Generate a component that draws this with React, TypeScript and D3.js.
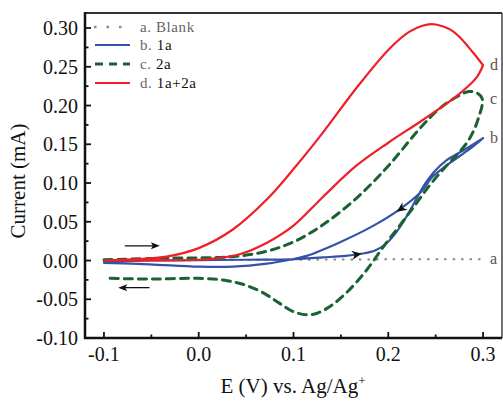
import React from "react";
import * as d3 from "d3";

// blank electrolyte (a)
const blankE = [-0.1, 0.0, 0.1, 0.2, 0.3];
const blankI = [0.0, 0.0005, 0.001, 0.0015, 0.0015];

// 1a (b): forward sweep, reverse sweep
const bFwdE = [-0.1, -0.05, 0.0, 0.05, 0.096, 0.131, 0.155, 0.173, 0.186, 0.197, 0.207, 0.216, 0.225, 0.233, 0.24, 0.248, 0.261, 0.279, 0.3];
const bFwdI = [-0.001, 0.0, 0.0005, 0.001, 0.0015, 0.004, 0.006, 0.009, 0.013, 0.021, 0.034, 0.05, 0.069, 0.087, 0.101, 0.114, 0.129, 0.142, 0.158];
const bRevE = [0.3, 0.285, 0.264, 0.246, 0.235, 0.212, 0.183, 0.148, 0.114, 0.096, 0.072, 0.036, 0.0, -0.052, -0.1];
const bRevI = [0.158, 0.143, 0.125, 0.107, 0.089, 0.066, 0.044, 0.023, 0.006, 0.001, -0.004, -0.008, -0.008, -0.005, -0.003];

// 2a (c)
const cE = [-0.1, -0.034, 0.036, 0.072, 0.1, 0.131, 0.166, 0.2, 0.233, 0.254, 0.272, 0.285, 0.294, 0.299,
  0.299, 0.296, 0.291, 0.283, 0.272, 0.259, 0.243, 0.228, 0.212, 0.195, 0.178, 0.158, 0.14, 0.125, 0.114, 0.1, 0.085, 0.07, 0.05, 0.03, 0.0, -0.05, -0.094];
const cI = [0.001, 0.003, 0.005, 0.012, 0.024, 0.046, 0.08, 0.122, 0.17, 0.196, 0.211, 0.218, 0.216, 0.209,
  0.2, 0.187, 0.17, 0.152, 0.136, 0.119, 0.096, 0.071, 0.045, 0.018, -0.011, -0.039, -0.058, -0.068, -0.07, -0.066, -0.055, -0.043, -0.032, -0.026, -0.023, -0.024, -0.023];

// 1a+2a (d): forward sweep, reverse sweep
const dFwdE = [-0.1, -0.06, -0.034, 0.0, 0.036, 0.072, 0.1, 0.131, 0.166, 0.201, 0.222, 0.236, 0.246, 0.258, 0.268, 0.278, 0.289, 0.3];
const dFwdI = [0.0, 0.002, 0.005, 0.016, 0.04, 0.079, 0.118, 0.165, 0.222, 0.273, 0.295, 0.303, 0.305, 0.302, 0.296, 0.285, 0.269, 0.252];
const dRevE = [0.3, 0.293, 0.272, 0.236, 0.2, 0.166, 0.131, 0.1, 0.072, 0.043, 0.02, 0.0, -0.05, -0.1];
const dRevI = [0.252, 0.236, 0.212, 0.181, 0.152, 0.122, 0.082, 0.045, 0.023, 0.008, 0.003, 0.001, 0.0, 0.0];

const xTicks = [-0.1, 0.0, 0.1, 0.2, 0.3];
const yTicks = [-0.1, -0.05, 0.0, 0.05, 0.1, 0.15, 0.2, 0.25, 0.3];

const W = 503;
const H = 401;
const margin = { left: 85, top: 13, right: 1, bottom: 63 };
const serif = "'Liberation Serif', 'Times New Roman', serif";

const x = d3.scaleLinear().domain([-0.12, 0.32]).range([margin.left, W - margin.right]);
const y = d3.scaleLinear().domain([-0.1, 0.3194]).range([H - margin.bottom, margin.top]);

const pts = (E: number[], I: number[]) => E.map((e, i) => [e, I[i]] as [number, number]);
const line = d3
  .line<[number, number]>()
  .x((d) => x(d[0]))
  .y((d) => y(d[1]))
  .curve(d3.curveCatmullRom.alpha(0.5));

const series = [
  { key: "a", name: "Blank", color: "#8a8a8a", width: 2, dash: "2.5 6", parts: [pts(blankE, blankI)] },
  { key: "b", name: "1a", color: "#3552a8", width: 2.2, dash: null, parts: [pts(bFwdE, bFwdI), pts(bRevE, bRevI)] },
  { key: "c", name: "2a", color: "#1b6232", width: 3, dash: "8 6", parts: [pts(cE, cI)] },
  { key: "d", name: "1a+2a", color: "#ee1f26", width: 2.2, dash: null, parts: [pts(dFwdE, dFwdI), pts(dRevE, dRevI)] },
];

// sweep direction arrowheads on curve b: [E, I, dE, dI]
const headPts = [
  [0.172, 0.0088, 1, 0.2],
  [0.209, 0.063, -1, -0.85],
];

function Head({ e, i, de, di }: { e: number; i: number; de: number; di: number }) {
  const px = x(e);
  const py = y(i);
  const ang = (Math.atan2(y(i + di * 0.01) - py, x(e + de * 0.01) - px) * 180) / Math.PI;
  return (
    <path
      d="M0,0 L-10,-4.5 L-7,0 L-10,4.5 Z"
      fill="#111"
      transform={`translate(${px},${py}) rotate(${ang})`}
    />
  );
}

export default function App() {
  const [x0, x1] = x.range();
  const [y0, y1] = y.range();
  const minorY = d3.range(-0.1, 0.3001, 0.025);
  const minorX = d3.range(-0.1, 0.3001, 0.05);
  const legendY = [27, 45, 64, 83];
  return (
    <svg
      width={W}
      height={H}
      style={{ position: "absolute", left: 0, top: 0, background: "#fff", fontFamily: serif }}
    >
      {/* frame */}
      <line x1={x0} x2={x1} y1={y1} y2={y1} stroke="#333" strokeWidth={2} />
      <line x1={x1} x2={x1} y1={y1} y2={y0} stroke="#444" strokeWidth={1.5} />

      {/* curves */}
      {series.map((s) => (
        <path
          key={s.key}
          d={s.parts.map((p) => line(p) || "").join("")}
          fill="none"
          stroke={s.color}
          strokeWidth={s.width}
          strokeDasharray={s.dash || undefined}
          strokeLinecap={s.key === "a" ? "butt" : "round"}
          strokeLinejoin="round"
        />
      ))}

      {headPts.map((h, k) => (
        <Head key={k} e={h[0]} i={h[1]} de={h[2]} di={h[3]} />
      ))}

      {/* sweep arrows */}
      <g stroke="#111" strokeWidth={1.3}>
        <line x1={x(-0.078)} x2={x(-0.044)} y1={y(0.019)} y2={y(0.019)} />
        <line x1={x(-0.052)} x2={x(-0.082)} y1={y(-0.035)} y2={y(-0.035)} />
      </g>
      <path d={`M${x(-0.041)},${y(0.019)} l-9,-3.5 l2,3.5 l-2,3.5 Z`} fill="#111" />
      <path d={`M${x(-0.085)},${y(-0.035)} l9,-3.5 l-2,3.5 l2,3.5 Z`} fill="#111" />

      {/* curve labels */}
      {series.map((s) => {
        const all = s.parts.flat();
        const last = s.key === "a" ? all[all.length - 1] : all.reduce((m, p) => (p[0] > m[0] ? p : m));
        return (
          <text key={s.key} x={490} y={y(last[1]) + 5} fontSize={16} fill="#555">
            {s.key}
          </text>
        );
      })}

      {/* axes */}
      <line x1={x0} x2={x0} y1={y1 - 1} y2={y0 + 1} stroke="#111" strokeWidth={2.5} />
      <line x1={x0 - 1} x2={x1} y1={y0} y2={y0} stroke="#111" strokeWidth={2.5} />
      {minorY.map((v, k) => (
        <line key={k} x1={x0} x2={x0 + (k % 2 === 0 ? 6 : 3.5)} y1={y(v)} y2={y(v)} stroke="#111" strokeWidth={1.8} />
      ))}
      {minorX.map((v, k) => (
        <line key={k} x1={x(v)} x2={x(v)} y1={y0} y2={y0 - (k % 2 === 0 ? 6 : 3.5)} stroke="#111" strokeWidth={1.8} />
      ))}
      {yTicks.map((v) => (
        <text key={v} x={x0 - 7} y={y(v) + 7} textAnchor="end" fontSize={20} fill="#111">
          {d3.format(".2f")(v).replace("−", "-")}
        </text>
      ))}
      {xTicks.map((v) => (
        <text key={v} x={x(v)} y={y0 + 23} textAnchor="middle" fontSize={20} fill="#111">
          {d3.format(".1f")(v).replace("−", "-")}
        </text>
      ))}

      {/* axis titles */}
      <text x={293} y={393} textAnchor="middle" fontSize={21} fill="#111">
        E (V) vs. Ag/Ag<tspan dy={-8} fontSize={13}>+</tspan>
      </text>
      <text transform="translate(25,181) rotate(-90)" textAnchor="middle" fontSize={21} fill="#111">
        Current (mA)
      </text>

      {/* legend */}
      {series.map((s, k) => (
        <g key={s.key}>
          <line
            x1={s.key === "a" ? 94 : 95}
            x2={130}
            y1={legendY[k]}
            y2={legendY[k]}
            stroke={s.color}
            strokeWidth={s.key === "a" ? 2.5 : s.width}
            strokeDasharray={s.key === "a" ? "2.5 10" : s.key === "c" ? "8 6" : undefined}
          />
          <text x={140} y={legendY[k] + 5} fontSize={15} letterSpacing={0.6} fill="#666">
            {s.key}.{" "}
            <tspan fill={s.key === "a" ? "#666" : "#111"}>{s.name}</tspan>
          </text>
        </g>
      ))}
    </svg>
  );
}
